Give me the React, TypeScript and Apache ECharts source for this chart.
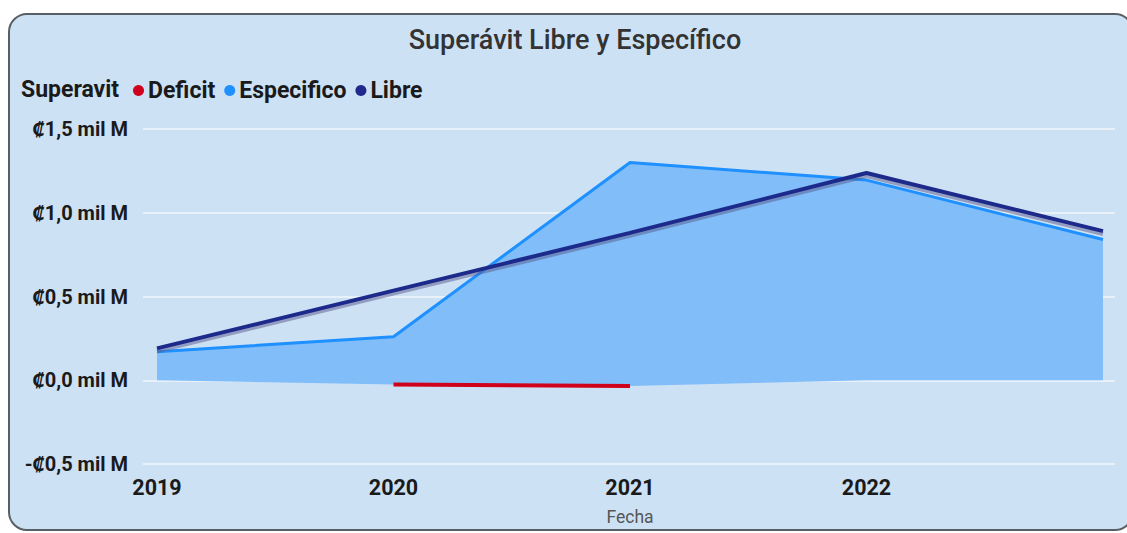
import React, { useEffect, useRef } from "react";
import * as echarts from "echarts";

const years = ["2019", "2020", "2021", "2022", "2023"];
const especifico = [0.17, 0.26, 1.3, 1.195, 0.84];
const libre = [0.19, 0.535, 0.88, 1.237, 0.89];
const deficit = [null, -0.025, -0.035, null, null];
const areaBase = [0, -0.025, -0.035, 0, 0];
const yTicks = [-0.5, 0, 0.5, 1, 1.5];

const FONT = "Roboto, 'Noto Sans', sans-serif";

function fmt(v: number) {
  const s = Math.abs(v).toFixed(1).replace(".", ",");
  return (v < 0 ? "-" : "") + "₡" + s + " mil M";
}

export default function App() {
  const ref = useRef<HTMLDivElement>(null);
  useEffect(() => {
    if (!ref.current) return;
    const chart = echarts.init(ref.current, undefined, { renderer: "svg" });
    const espDiff = especifico.map((v, i) => +(v - areaBase[i]).toFixed(4));
    chart.setOption({
      animation: false,
      backgroundColor: "#ffffff",
      graphic: [
        {
          type: "rect",
          z: -10,
          shape: { x: 9, y: 14, width: 1124, height: 516, r: 18 },
          style: { fill: "#cde1f5", stroke: "#5a5f66", lineWidth: 2 },
        },
        {
          type: "text",
          x: 575,
          y: 40,
          style: {
            text: "Superávit Libre y Específico",
            fill: "#333333",
            font: `500 27px ${FONT}`,
            textAlign: "center",
            textVerticalAlign: "middle",
          },
        },
        {
          type: "text",
          x: 21,
          y: 89,
          style: {
            text: "Superavit",
            fill: "#1a1a1a",
            font: `bold 23px ${FONT}`,
            textAlign: "left",
            textVerticalAlign: "middle",
          },
        },
      ],
      legend: {
        left: 128,
        top: 74,
        icon: "circle",
        itemWidth: 11,
        itemHeight: 11,
        itemGap: 9,
        data: ["Deficit", "Especifico", "Libre"],
        textStyle: { fontFamily: FONT, fontWeight: "bold", fontSize: 23, color: "#1a1a1a", padding: [0, 0, 0, -1] },
      },
      grid: [
        { left: 157, right: 24, top: 129, bottom: 69 },
        { left: 143, right: 12, top: 129, bottom: 69 },
      ],
      xAxis: [
        {
          type: "category",
          gridIndex: 0,
          data: years,
          boundaryGap: false,
          axisLine: { show: false },
          axisTick: { show: false },
          axisLabel: {
            margin: 12,
            fontFamily: FONT,
            fontWeight: "bold",
            fontSize: 21.5,
            color: "#1a1a1a",
            formatter: (v: string, i: number) => (i === years.length - 1 ? "" : v),
          },
          name: "Fecha",
          nameLocation: "middle",
          nameGap: 44,
          nameTextStyle: { fontFamily: FONT, fontSize: 17.5, color: "#555555" },
        },
        { type: "value", gridIndex: 1, show: false, min: 0, max: 1 },
      ],
      yAxis: [
        {
          type: "value",
          gridIndex: 0,
          min: -0.5,
          max: 1.5,
          interval: 0.5,
          show: false,
        },
        {
          type: "value",
          gridIndex: 1,
          min: yTicks[0],
          max: yTicks[yTicks.length - 1],
          interval: 0.5,
          axisLine: { show: false },
          axisTick: { show: false },
          splitLine: { lineStyle: { color: "#e8f0f9", width: 2 } },
          axisLabel: {
            margin: 15,
            fontFamily: FONT,
            fontWeight: "bold",
            fontSize: 20,
            color: "#1a1a1a",
            formatter: (v: number) => fmt(v),
          },
        },
      ],
      series: [
        {
          name: "base",
          type: "line",
          stack: "esp",
          stackStrategy: "all",
          data: areaBase,
          showSymbol: false,
          symbol: "none",
          lineStyle: { opacity: 0, width: 0 },
          silent: true,
          z: 1,
        },
        {
          name: "Especifico",
          type: "line",
          stack: "esp",
          stackStrategy: "all",
          data: espDiff,
          symbol: "none",
          color: "#1e90ff",
          lineStyle: { color: "#1e90ff", width: 3 },
          areaStyle: { color: "#80bdf9", opacity: 1 },
          z: 2,
        },
        {
          name: "Deficit",
          type: "line",
          data: deficit,
          symbol: "none",
          color: "#d0021b",
          lineStyle: { color: "#d0021b", width: 4 },
          z: 3,
        },
        {
          name: "Libre",
          type: "line",
          data: libre,
          symbol: "none",
          color: "#1f2a8c",
          lineStyle: {
            color: "#1f2a8c",
            width: 4,
            shadowColor: "rgba(90,90,140,0.5)",
            shadowBlur: 1,
            shadowOffsetY: 3,
          },
          z: 4,
        },
      ],
    });
    return () => chart.dispose();
  }, []);
  return (
    <div
      ref={ref}
      style={{ position: "fixed", left: 0, top: 0, width: 1127, height: 533 }}
    />
  );
}
